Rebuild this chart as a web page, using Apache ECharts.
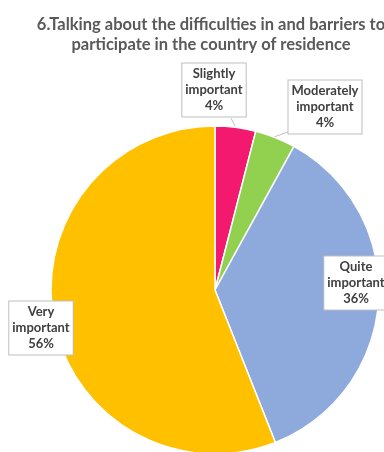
<!DOCTYPE html>
<html>
<head>
<meta charset="utf-8">
<script src="https://cdn.jsdelivr.net/npm/echarts@6/dist/echarts.min.js"></script>
<style>
  html, body { margin: 0; padding: 0; background: #fff; }
  #chart { width: 384px; height: 452px; }
</style>
</head>
<body>
<div id="chart"></div>
<script>
// Survey answers, in clockwise order from 12 o'clock
const categories = ['Slightly important', 'Moderately important', 'Quite important', 'Very important'];
const shares = [4, 4, 36, 56];
const sliceColors = ['#F2196E', '#92D050', '#8EA9DB', '#FFC000'];

// Callout box centres and their pointer lines (pixels)
const calloutCentres = [[214, 90], [325, 107], [356, 283], [41, 328]];
const calloutPointers = [
  [[236, 128], [231, 118], [231, 118]],
  [[274, 137], [296, 129], [296, 129]],
  null,
  null
];

const chart = echarts.init(document.getElementById('chart'), null, { renderer: 'canvas' });

chart.setOption({
  animation: false,
  backgroundColor: '#ffffff',
  title: {
    text: '6.Talking about the difficulties in and barriers to\nparticipate in the country of residence',
    left: 206,
    top: 10,
    textAlign: 'center',
    textStyle: {
      fontFamily: 'Lato',
      fontSize: 16.5,
      fontWeight: 'bold',
      color: '#595959',
      lineHeight: 20
    }
  },
  series: [{
    type: 'pie',
    center: [215, 290],
    radius: 164,
    startAngle: 90,
    clockwise: true,
    avoidLabelOverlap: false,
    itemStyle: { borderColor: '#ffffff', borderWidth: 1.5 },
    data: categories.map((name, i) => ({
      name: name,
      value: shares[i],
      itemStyle: { color: sliceColors[i] }
    })),
    label: {
      show: true,
      position: 'outside',
      overflow: 'none',
      formatter: p => p.name.replace(' ', '\n') + '\n' + Math.round(p.percent) + '%',
      fontFamily: 'Lato',
      fontSize: 13,
      fontWeight: 'bold',
      color: '#404040',
      lineHeight: 16,
      align: 'center',
      backgroundColor: '#ffffff',
      borderColor: '#BFBFBF',
      borderWidth: 1,
      padding: [3, 3, 2, 3]
    },
    labelLine: {
      show: true,
      lineStyle: { color: '#BFBFBF', width: 1 }
    },
    labelLayout: function (params) {
      const c = calloutCentres[params.dataIndex];
      const out = { x: c[0], y: c[1], align: 'center', verticalAlign: 'middle' };
      const pts = calloutPointers[params.dataIndex];
      out.labelLinePoints = pts ? pts : [[c[0], c[1]], [c[0], c[1]], [c[0], c[1]]];
      return out;
    }
  }]
});
</script>
</body>
</html>
